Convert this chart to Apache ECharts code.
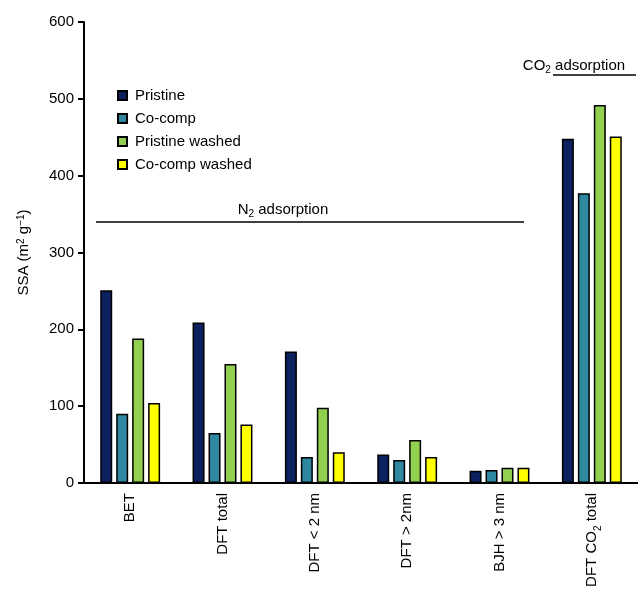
<!DOCTYPE html>
<html>
<head>
<meta charset="utf-8">
<script src="https://cdn.jsdelivr.net/npm/echarts@6/dist/echarts.min.js"></script>
<style>html,body{margin:0;padding:0;background:#fff}#main{width:638px;height:606px}</style>
</head>
<body>
<div id="main"></div>
<script>
// categories
const categories = ['BET', 'DFT total', 'DFT < 2 nm', 'DFT > 2nm', 'BJH > 3 nm', 'DFT {s|CO}{sub|2}{s| total}']
// SSA values (m2/g)
const pristine = [251, 209, 171, 37, 16, 448]
const coComp = [90, 65, 34, 30, 17, 377]
const pristineWashed = [188, 155, 98, 56, 20, 492]
const coCompWashed = [104, 76, 40, 34, 20, 451]

const chart = echarts.init(document.getElementById('main'))
const font = 'Liberation Sans, Arial, sans-serif'

function series(name, values, color) {
  return {
    type: 'bar',
    name: name,
    barWidth: 12,
    barGap: '33%',
    itemStyle: { color: color, borderColor: '#000', borderWidth: 1.5 },
    data: values
  }
}

chart.setOption({
  animation: false,
  textStyle: { fontFamily: font },
  grid: { left: 84, right: -8, top: 22, bottom: 123 },
  legend: {
    orient: 'vertical',
    left: 112,
    top: 83,
    itemWidth: 9,
    itemHeight: 9,
    itemGap: 8,
    icon: 'rect',
    textStyle: { fontSize: 15, color: '#000', fontFamily: font, padding: [0, 0, 0, 3] }
  },
  xAxis: {
    type: 'category',
    data: categories,
    axisLine: { lineStyle: { color: '#000', width: 2 } },
    axisTick: { show: false },
    axisLabel: {
      rotate: 90,
      margin: 10,
      fontSize: 15,
      color: '#000',
      interval: 0,
      rich: {
        s: { fontSize: 15, color: '#000' },
        sub: { fontSize: 10, color: '#000', verticalAlign: 'bottom', padding: [0, 0, -4, 0] }
      }
    }
  },
  yAxis: {
    type: 'value',
    min: 0,
    max: 600,
    interval: 100,
    name: 'SSA (m{sup|2} g{sup|−1})',
    nameLocation: 'middle',
    nameGap: 52,
    nameRotate: 90,
    nameTextStyle: {
      fontSize: 15, color: '#000',
      rich: { sup: { fontSize: 10, verticalAlign: 'top', padding: [0, 0, 6, 0] } }
    },
    splitLine: { show: false },
    axisLine: { show: true, lineStyle: { color: '#000', width: 2 } },
    axisTick: { show: true, length: 6, lineStyle: { color: '#000', width: 2 } },
    axisLabel: { fontSize: 15, color: '#000', margin: 10 }
  },
  series: [
    series('Pristine', pristine, '#0b2160'),
    series('Co-comp', coComp, '#2f87a0'),
    series('Pristine washed', pristineWashed, '#92d050'),
    series('Co-comp washed', coCompWashed, '#ffff00')
  ],
  graphic: [
    { type: 'line', shape: { x1: 96, y1: 222, x2: 524, y2: 222 }, style: { stroke: '#000', lineWidth: 1.5 } },
    {
      type: 'text', x: 283, y: 210,
      style: {
        text: '{a|N}{b|2}{a| adsorption}', align: 'center', verticalAlign: 'middle', fill: '#000',
        rich: { a: { fontSize: 15, fontFamily: font }, b: { fontSize: 10, fontFamily: font, padding: [8, 0, 0, 0] } }
      }
    },
    { type: 'line', shape: { x1: 553, y1: 75, x2: 636, y2: 75 }, style: { stroke: '#000', lineWidth: 1.5 } },
    {
      type: 'text', x: 574, y: 66,
      style: {
        text: '{a|CO}{b|2}{a| adsorption}', align: 'center', verticalAlign: 'middle', fill: '#000',
        rich: { a: { fontSize: 15, fontFamily: font }, b: { fontSize: 10, fontFamily: font, padding: [8, 0, 0, 0] } }
      }
    }
  ]
})
</script>
</body>
</html>
